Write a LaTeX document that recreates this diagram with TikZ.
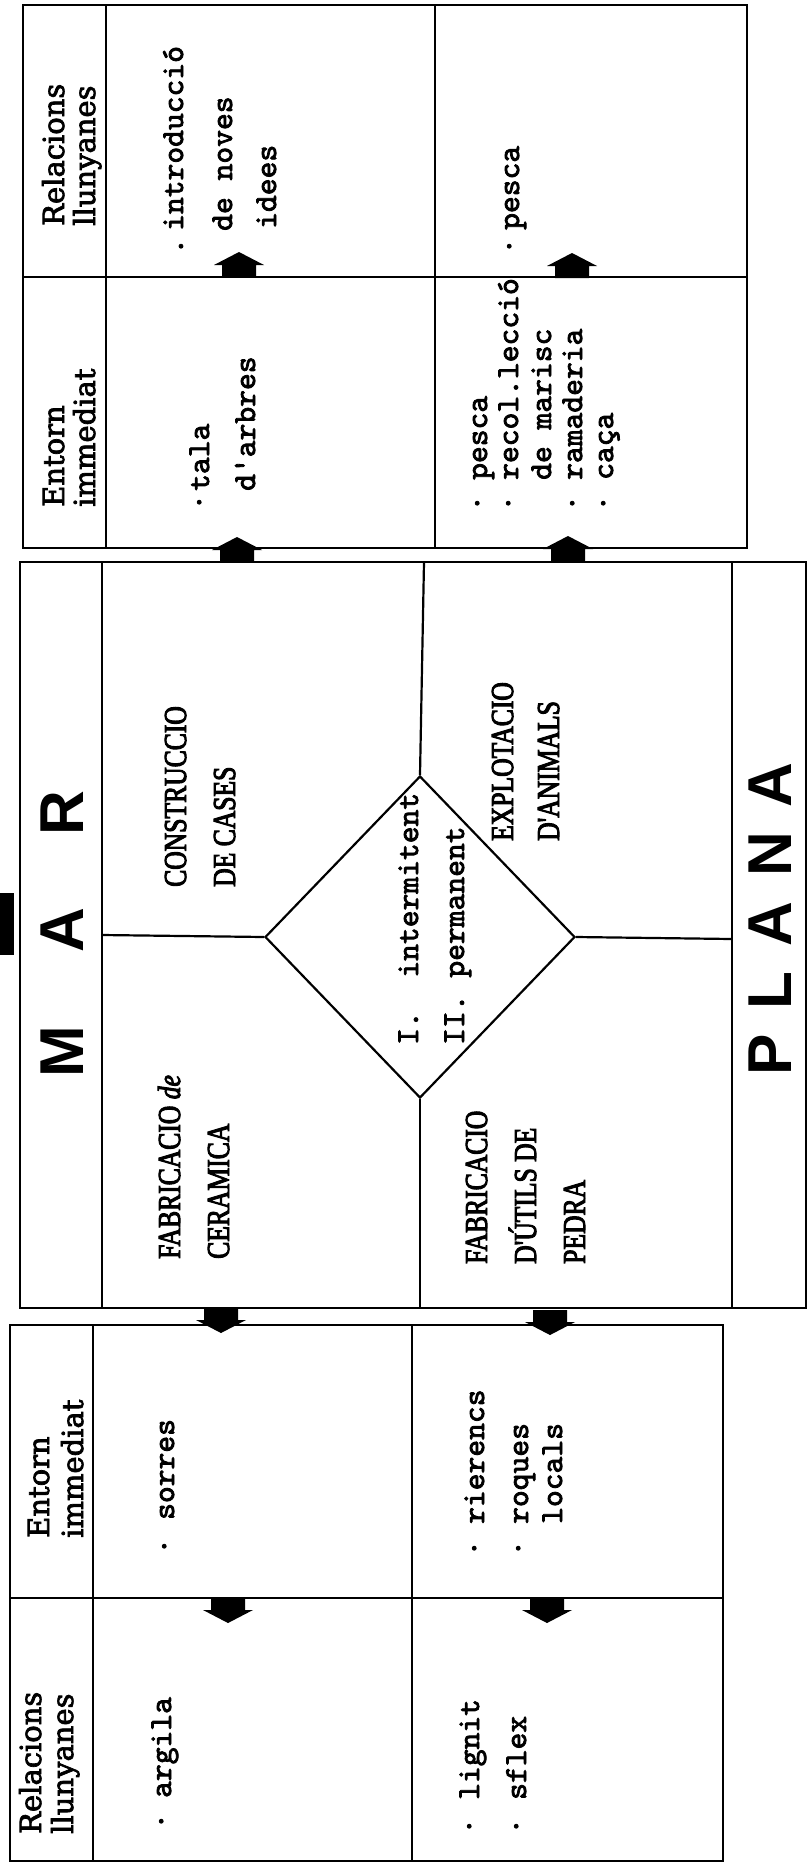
\documentclass[tikz,border=0pt]{standalone}
\usepackage{fontspec}
\usetikzlibrary{shapes.geometric}
\newfontfamily\hdrfont[FakeBold=2.5]{DejaVu Serif}
\newfontfamily\capsfont[FakeStretch=0.8,FakeBold=3]{Liberation Serif}
\newfontfamily\bigfont{Liberation Sans}
\newfontfamily\typefont[FakeBold=2.5]{lmmono10-regular.otf}
\newcommand\bul[1]{\llap{·\hspace{#1pt}}}
\newcommand\per[1]{\llap{.\hspace{#1pt}}}
\tikzset{
  boxline/.style={line width=2.2pt},
  typed/.style={font=\typefont\fontsize{32}{32}\selectfont, rotate=90, anchor=base west, inner sep=0pt},
  hdr/.style={font=\hdrfont\fontsize{29}{29}\selectfont, rotate=90, anchor=base west, inner sep=0pt},
  headtype/.style={font=\capsfont\fontsize{32}{32}\selectfont, rotate=90, anchor=base west, inner sep=0pt},
  bigtype/.style={font=\bigfont\bfseries\fontsize{62}{62}\selectfont, rotate=90, inner sep=0pt},
}

\begin{document}
\begin{tikzpicture}[x=1pt,y=-1pt]
    \useasboundingbox (0,0) rectangle (807,1863);

    % top block
    \draw[boxline] (23,5) rectangle (747,548);
    \draw[boxline] (106,5) -- (106,548);
    \draw[boxline] (435,5) -- (435,548);
    \draw[boxline] (23,277) -- (747,277);

    % middle block
    \draw[boxline] (20,562) rectangle (806,1308);
    \draw[boxline] (102,562) -- (102,1308);
    \draw[boxline] (732,562) -- (732,1308);
    \node[draw,boxline,shape=diamond,minimum width=310pt,minimum height=322pt,inner sep=0pt] (dia) at (420,937) {};
    \draw[boxline] (424,562) -- (dia.north);
    \draw[boxline] (dia.south) -- (420,1308);
    \draw[boxline] (102,935) -- (dia.west);
    \draw[boxline] (dia.east) -- (732,939);

    % bottom block
    \draw[boxline] (10,1325) rectangle (723,1861);
    \draw[boxline] (93,1325) -- (93,1861);
    \draw[boxline] (412,1325) -- (412,1861);
    \draw[boxline] (10,1598) -- (723,1598);

    \fill (0,893) rectangle (14,955);

    % block arrows
    \foreach \ax/\ay/\dir in {239/277/1, 572/278/1, 237/562/1, 568/561/1, 221/1308/-1, 550/1310/-1, 228/1598/-1, 547/1598/-1}
        \fill[shift={(\ax,\ay)},yscale=\dir] (-17,0) -- (-17,-12) -- (-25,-12) -- (0,-25) -- (25,-12) -- (17,-12) -- (17,0) -- cycle;

    \node[bigtype] (mar) at (62,934) {M\hspace{73pt}A\hspace{73pt}R};
    \node[bigtype] (plana) at (770,919) {P\hspace{25pt}L\hspace{25pt}A\hspace{25pt}N\hspace{25pt}A};

    \foreach \bx/\sy/\txt [count=\i] in {64/226/Relacions, 95/226/llunyanes, 64/507/Entorn, 95/507/immediat,
        49/1538/Entorn, 83/1538/immediat, 41/1834/Relacions, 73/1834/llunyanes}
        \node[hdr] (hd\i) at (\bx,\sy) {\txt};

    \foreach \bx/\sy/\txt [count=\i] in {186/887/CONSTRUCCIO, 235/887/DE CASES, 180/1259/{FABRICACIO \textit{de}},
        229/1259/CERAMICA, 513/841/EXPLOTACIO, 559/841/D'ANIMALS, 487/1264/FABRICACIO, 536/1264/D'ÚTILS DE, 585/1264/PEDRA}
        \node[headtype] (act\i) at (\bx,\sy) {\txt};

    \foreach \bx/\sy/\txt [count=\i] in {183/231/{\per{7}introducció}, 232/231/de noves, 276/229/idees,
        519/230/{\bul{8}pesca}, 209/491/{\bul{3}tala}, 255/491/d'arbres,
        487/480/{\bul{15}pesca}, 518/480/{\bul{15}recol.lecció}, 551/480/de marisc, 582/480/{\bul{15}ramaderia}, 613/480/{\bul{15}caça},
        418/1045/{I.\ \ intermitent}, 464/1045/{II.\ permanent},
        174/1520/{\bul{18}sorres}, 484/1524/{\bul{16}rierencs}, 528/1524/{\bul{16}roques}, 562/1524/locals,
        171/1798/{\bul{15}argila}, 479/1800/{\bul{18}lignit}, 526/1800/{\bul{18}sflex}}
        \node[typed] (tx\i) at (\bx,\sy) {\txt};
\end{tikzpicture}
\end{document}
